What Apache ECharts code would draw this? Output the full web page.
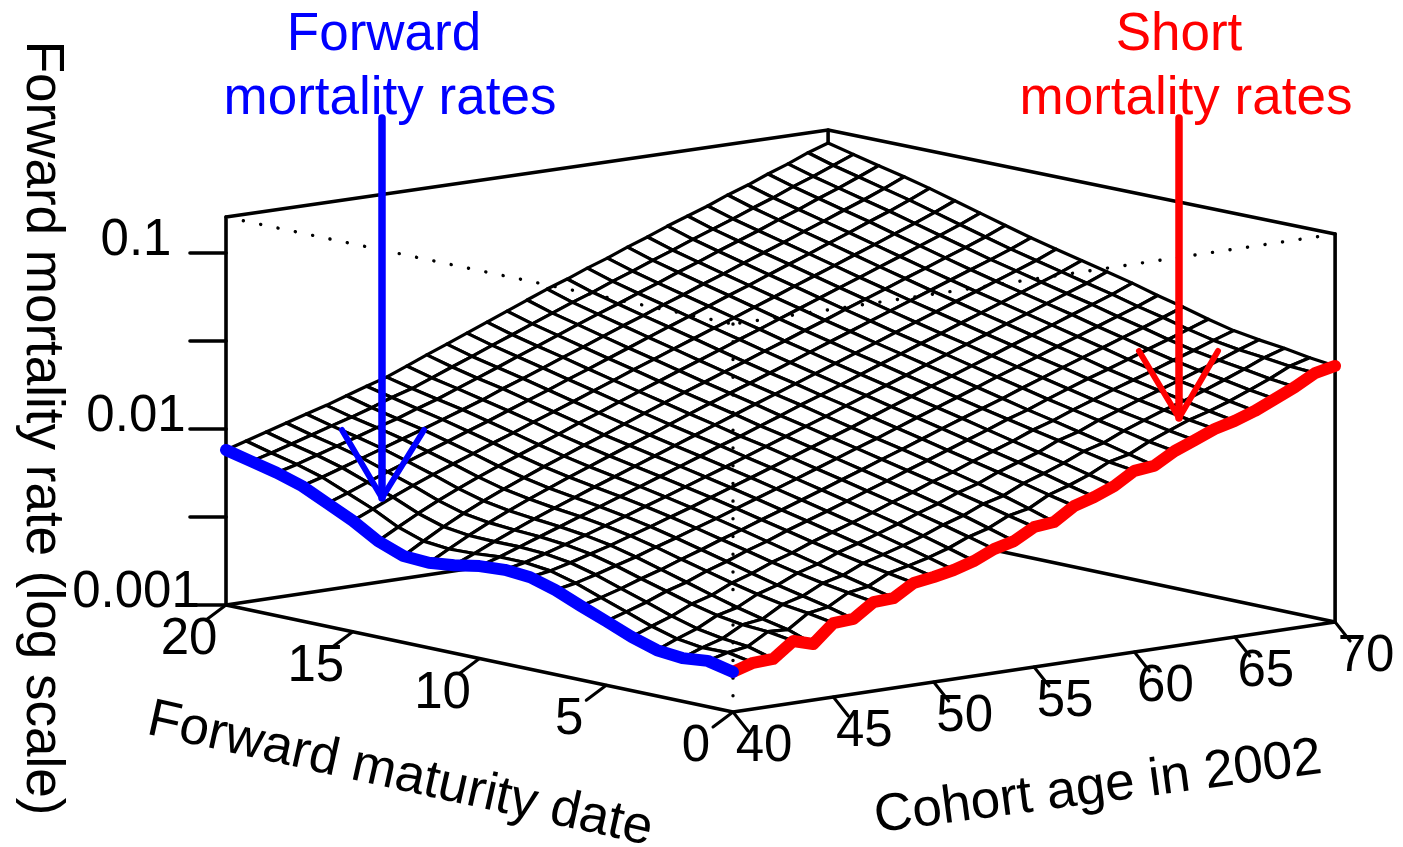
<!DOCTYPE html>
<html><head><meta charset="utf-8"><style>html,body{margin:0;background:#fff}#c{width:1403px;height:847px}</style>
<script src="https://cdn.jsdelivr.net/npm/echarts@6/dist/echarts.min.js"></script></head>
<body><div id="c"></div><script>
const ages=[40,41,42,43,44,45,46,47,48,49,50,51,52,53,54,55,56,57,58,59,60,61,62,63,64,65,66,67,68,69,70];
const maturities=[0,1,2,3,4,5,6,7,8,9,10,11,12,13,14,15,16,17,18,19,20];
// Forward mortality rate per thousand, one list per forward maturity date, across cohort ages 40..70
const m00=[1.69,1.83,1.85,2.25,2.08,2.63,2.67,3.20,3.24,3.80,3.95,4.16,4.50,5.06,5.40,6.24,6.41,7.60,8.22,9.12,10.7,11.0,12.8,14.2,15.8,16.9,18.5,20.8,23.4,27.0,28.5];
const m01=[1.82,1.95,2.03,2.37,2.34,2.79,2.91,3.37,3.52,4.02,4.26,4.56,4.96,5.53,5.96,6.75,7.12,8.19,8.91,9.85,11.2,11.9,13.5,15.0,16.6,17.9,19.6,21.8,24.3,27.5,29.6];
const m02=[1.76,1.94,2.10,2.42,2.51,2.92,3.13,3.56,3.80,4.27,4.60,4.98,5.44,6.03,6.56,7.34,7.86,8.88,9.71,10.7,12.0,12.9,14.5,16.0,17.6,19.1,21.0,23.2,25.7,28.7,31.2];
const m03=[1.82,2.03,2.23,2.55,2.72,3.11,3.37,3.79,4.10,4.57,4.96,5.41,5.92,6.54,7.14,7.93,8.58,9.58,10.5,11.5,12.9,13.9,15.5,17.0,18.7,20.4,22.3,24.5,26.9,29.7,32.5];
const m04=[2.02,2.23,2.45,2.76,2.98,3.36,3.66,4.07,4.43,4.91,5.36,5.85,6.41,7.07,7.73,8.55,9.30,10.3,11.3,12.4,13.8,15.0,16.6,18.2,20.0,21.8,23.8,26.1,28.5,31.3,34.2];
const m05=[2.31,2.51,2.74,3.04,3.29,3.66,3.99,4.41,4.80,5.30,5.79,6.33,6.94,7.63,8.36,9.21,10.1,11.1,12.2,13.4,14.8,16.1,17.8,19.6,21.5,23.4,25.6,28.1,30.7,33.7,37.0];
const m06=[2.63,2.82,3.05,3.34,3.62,3.98,4.34,4.77,5.20,5.71,6.24,6.83,7.49,8.23,9.02,9.93,10.9,12.0,13.2,14.5,15.9,17.4,19.2,21.1,23.2,25.4,27.8,30.5,33.4,36.7,40.5];
const m07=[3.02,3.18,3.41,3.69,3.98,4.35,4.72,5.16,5.62,6.16,6.74,7.37,8.08,8.87,9.73,10.7,11.7,12.9,14.2,15.6,17.1,18.8,20.7,22.7,24.9,27.4,30.0,32.9,36.1,39.6,43.9];
const m08=[3.33,3.48,3.72,4.01,4.32,4.70,5.10,5.57,6.06,6.64,7.26,7.95,8.71,9.56,10.5,11.5,12.6,13.9,15.3,16.8,18.5,20.3,22.3,24.5,27.0,29.6,32.5,35.8,39.3,43.2,48.1];
const m09=[3.42,3.62,3.90,4.23,4.59,5.00,5.44,5.95,6.49,7.11,7.79,8.53,9.36,10.3,11.3,12.4,13.6,15.0,16.5,18.1,19.9,21.9,24.1,26.5,29.1,32.0,35.1,38.6,42.4,46.6,52.0];
const m10=[3.35,3.63,3.98,4.37,4.79,5.26,5.76,6.32,6.92,7.60,8.34,9.15,10.1,11.0,12.1,13.3,14.7,16.1,17.7,19.5,21.5,23.6,26.0,28.5,31.4,34.5,37.9,41.7,45.8,50.4,56.2];
const m11=[3.16,3.54,3.98,4.45,4.95,5.48,6.05,6.68,7.34,8.09,8.91,9.80,10.8,11.9,13.1,14.4,15.8,17.4,19.1,21.0,23.1,25.4,28.0,30.8,33.9,37.3,40.9,45.0,49.5,54.5,60.8];
const m12=[3.04,3.50,4.02,4.57,5.14,5.75,6.38,7.08,7.81,8.64,9.53,10.5,11.6,12.8,14.1,15.5,17.0,18.7,20.6,22.7,25.0,27.5,30.3,33.3,36.6,40.3,44.3,48.7,53.5,59.0,65.8];
const m13=[3.10,3.62,4.20,4.81,5.44,6.11,6.81,7.57,8.36,9.27,10.2,11.3,12.5,13.8,15.2,16.7,18.4,20.2,22.3,24.5,27.0,29.7,32.8,36.1,39.7,43.8,48.1,53.1,58.4,64.5,72.1];
const m14=[3.51,4.05,4.66,5.30,5.96,6.66,7.39,8.20,9.05,10.0,11.1,12.2,13.5,14.9,16.4,18.1,19.9,21.9,24.2,26.6,29.3,32.3,35.6,39.2,43.1,47.6,52.4,57.9,63.8,70.6,79.0];
const m15=[4.27,4.79,5.38,6.01,6.67,7.38,8.13,8.98,9.85,10.9,12.0,13.2,14.6,16.1,17.8,19.6,21.6,23.8,26.2,28.8,31.8,35.0,38.7,42.6,46.9,51.8,57.1,63.1,69.7,77.3,86.6];
const m16=[5.00,5.50,6.08,6.71,7.38,8.10,8.88,9.76,10.7,11.8,13.0,14.3,15.8,17.4,19.2,21.2,23.4,25.8,28.4,31.3,34.6,38.0,42.0,46.3,51.0,56.4,62.2,69.0,76.1,84.7,94.9];
const m17=[5.85,6.31,6.87,7.49,8.16,8.89,9.68,10.6,11.6,12.7,14.1,15.5,17.1,18.9,20.8,23.0,25.4,27.9,30.9,33.9,37.5,41.2,45.6,50.2,55.3,61.2,67.5,74.8,82.5,91.8,103];
const m18=[6.49,6.96,7.54,8.17,8.86,9.62,10.4,11.4,12.4,13.7,15.1,16.7,18.5,20.4,22.6,25.0,27.6,30.3,33.5,36.8,40.8,44.8,49.6,54.6,60.0,66.5,73.2,81.3,89.6,99.6,111];
const m19=[7.02,7.54,8.15,8.82,9.55,10.3,11.2,12.3,13.3,14.7,16.3,18.0,20.0,22.1,24.5,27.1,30.0,32.9,36.5,40.1,44.4,48.8,54.1,59.4,65.3,72.4,79.6,88.5,97.3,108,120];
const m20=[7.60,8.22,8.89,9.62,10.4,11.2,12.2,13.3,14.4,16.0,17.8,19.7,21.9,24.3,27.0,30.0,33.3,36.5,40.5,44.4,49.3,54.1,60.0,65.8,72.1,80.1,87.7,97.4,107,119,130];
const ratesPerThousand=[m00,m01,m02,m03,m04,m05,m06,m07,m08,m09,m10,m11,m12,m13,m14,m15,m16,m17,m18,m19,m20];
const rateTicks=[0.001,0.00316,0.01,0.0316,0.1];
const rateLabels=[['0.1',0.1],['0.01',0.01],['0.001',0.001]];
const maturityTicks=[0,5,10,15,20];
const ageTicks=[40,45,50,55,60,65,70];
const rateFloor=0.001, rateCeil=0.16, rateCeilBack=0.154;

// oblique view of the 3-D box, into the hidden 2-D axes
function project(m,age,rate){
  const a=age-40;
  return [733+a*20.07-m*25.35, 712-a*3-m*5.35-(Math.log10(rate)+3)*176];
}
const F="'Liberation Sans',Arial,sans-serif";
const black='#000';
function seg(points,width,color,z,extra){
  return Object.assign({type:'line',data:points,showSymbol:false,silent:true,animation:false,z:z,
    lineStyle:{width:width,color:color,cap:'round',join:'round'}},extra||{});
}
const series=[];
const A0=40,A1=70,M1=20;
// box: solid edges behind the surface
series.push(seg([project(0,A0,rateFloor),project(M1,A0,rateFloor),project(M1,A0,rateCeil),project(M1,A1,rateCeilBack),project(0,A1,rateCeil),project(0,A1,rateFloor),project(0,A0,rateFloor)],3.6,black,1));
series.push(seg([project(M1,A0,rateFloor),project(M1,A1,rateFloor),project(0,A1,rateFloor)],3.6,black,1));
series.push(seg([project(M1,A1,rateFloor),project(M1,A1,rateCeilBack)],3.6,black,1));
// ticks
rateTicks.forEach(t=>{const p=project(M1,A0,t);series.push(seg([p,[p[0]-36,p[1]]],3.6,black,1));});
maturityTicks.forEach(t=>{const p=project(t,A0,rateFloor);series.push(seg([p,[p[0]-20,p[1]+15]],3,black,1));});
ageTicks.forEach(t=>{const p=project(0,t,rateFloor);series.push(seg([p,[p[0]+15,p[1]+19]],3,black,1));});
// surface: far cells first so nearer cells hide them
const cells=[];
for(let i=maturities.length-2;i>=0;i--)for(let j=ages.length-2;j>=0;j--)cells.push([i,j]);
const pt=(i,j)=>project(maturities[i],ages[j],ratesPerThousand[i][j]/1000);
series.push({type:'custom',coordinateSystem:'cartesian2d',silent:true,animation:false,z:2,data:cells,
  encode:{x:0,y:1},clip:false,
  renderItem:(p,api)=>{const i=api.value(0),j=api.value(1);
    return {type:'polygon',shape:{points:[pt(i,j),pt(i+1,j),pt(i+1,j+1),pt(i,j+1)].map(q=>api.coord(q))},
      style:{fill:'#fff',stroke:black,lineWidth:3.2,lineJoin:'round'}};}});
// hidden box edges, dotted
const dots={type:[0.1,17.6],width:3.4,color:black,cap:'round'};
[[project(M1,A0,rateCeil),project(0,A0,rateCeil)],[project(0,A1,rateCeil),project(0,A0,rateCeil)],[project(0,A0,rateCeil),project(0,A0,rateFloor)]]
 .forEach(d=>series.push(seg(d,3.4,black,3,{lineStyle:dots})));
// highlighted edges
series.push(seg(ages.map((g,j)=>pt(0,j)),12,'#ff0000',4));
series.push(seg(maturities.map((m,i)=>pt(i,0)),12,'#0000ff',5));

const txt=(s,x,y,size,color,rot)=>({type:'text',x:x,y:y,rotation:(rot||0)*Math.PI/180,z:10,silent:true,
  style:{text:s,fill:color||black,font:size+'px '+F,align:'center',verticalAlign:'middle'}});
const arrow=(pts,w,c)=>({type:'polyline',z:9,silent:true,shape:{points:pts},style:{stroke:c,lineWidth:w,fill:null,lineCap:'round',lineJoin:'round'}});
const graphic=[
 txt('Forward',384,35,53,'#0000ff'),txt('mortality rates',390,99,53,'#0000ff'),
 txt('Short',1179,35,53,'#ff0000'),txt('mortality rates',1186,99,53,'#ff0000'),
 arrow([[382,118],[382,498]],7.5,'#0000ff'),arrow([[342,430],[382,498],[424,430]],6,'#0000ff'),
 arrow([[1179,118],[1179,418]],7.5,'#ff0000'),arrow([[1139,351],[1179,418],[1218,351]],6,'#ff0000'),
 txt('Forward mortality rate (log scale)',42,428,53,black,-90),
 txt('Forward maturity date',400,775,53,black,-12.5),
 txt('Cohort age in 2002',1098,788,53,black,7.6)
];
rateLabels.forEach(([s,v])=>{const p=project(M1,A0,v);graphic.push(txt(s,136,p[1]-12,51));});
maturityTicks.forEach(t=>{const p=project(t,A0,rateFloor);graphic.push(txt(String(t),p[0]-37,p[1]+35,51));});
ageTicks.forEach(t=>{const p=project(0,t,rateFloor);graphic.push(txt(String(t),p[0]+31,p[1]+35,51));});

const chart=echarts.init(document.getElementById('c'),null,{renderer:'canvas'});
chart.setOption({animation:false,backgroundColor:'#fff',
  grid:{left:0,right:0,top:0,bottom:0},
  xAxis:{type:'value',min:0,max:1403,show:false},
  yAxis:{type:'value',min:0,max:847,inverse:true,show:false},
  series:series,graphic:graphic});
</script></body></html>
